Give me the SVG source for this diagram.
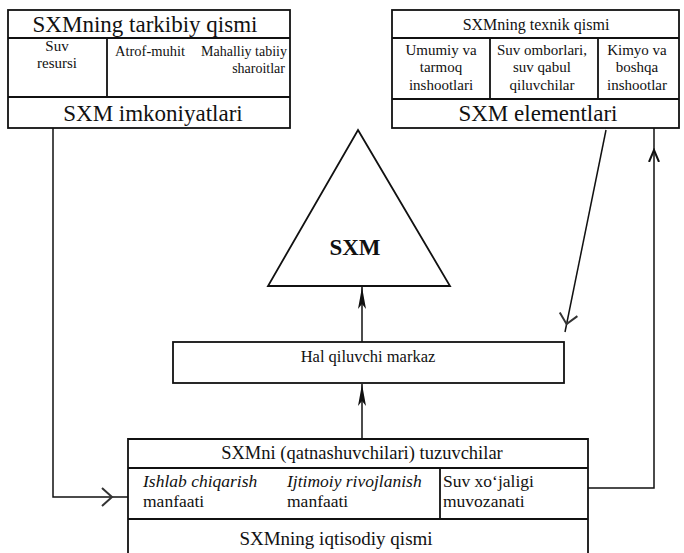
<svg xmlns="http://www.w3.org/2000/svg" width="684" height="553" viewBox="0 0 684 553">
<style>
.box{fill:none;stroke:#111;stroke-width:1.8}
.ln{fill:none;stroke:#111;stroke-width:1.5}
.t{font-family:"Liberation Serif","Times New Roman",serif;fill:#111}
.big{font-size:23px}
.mid{font-size:18.5px}
.cell{font-size:17.5px}
.sm{font-size:15px}
.it{font-style:italic}
.c{text-anchor:middle}
</style>
<defs>
<marker id="chev" markerUnits="userSpaceOnUse" viewBox="0 0 30 30" markerWidth="30" markerHeight="30" refX="22" refY="15" orient="auto">
<path d="M4,6 L14,15 L4,24" fill="none" stroke="#333" stroke-width="2"/>
</marker>
<marker id="up" markerUnits="userSpaceOnUse" viewBox="0 0 24 12" markerWidth="24" markerHeight="12" refX="22" refY="6" orient="auto">
<path d="M0,2 L22,6 L0,10 L5,6 Z" fill="#111"/>
</marker>
<marker id="small" markerUnits="userSpaceOnUse" viewBox="0 0 14 12" markerWidth="14" markerHeight="12" refX="12" refY="6" orient="auto">
<path d="M0,1 L12,6 L0,11" fill="none" stroke="#111" stroke-width="2"/>
</marker>
</defs>

<g id="connectors">
<path class="ln" d="M53,128 V497 H120" marker-end="url(#chev)"/>
<path class="ln" d="M120,497 H128"/>
<path class="ln" d="M588,488 H654 V150" marker-end="url(#small)"/>
<path class="ln" d="M654,150 V128"/>
<path class="ln" d="M606,130 L565,332" marker-end="url(#chev)"/>
<path class="ln" d="M362,342 V287" marker-end="url(#up)"/>
<path class="ln" d="M362,439 V384" marker-end="url(#up)"/>
</g>

<g id="tarkibiy">
<rect class="box" x="8" y="10" width="282" height="118"/>
<path class="box" d="M8,38 H290 M8,97 H290 M107,38 V97"/>
<text class="t big c" x="145" y="32">SXMning tarkibiy qismi</text>
<text class="t sm c" x="57" y="51">Suv</text>
<text class="t sm c" x="57" y="68">resursi</text>
<text class="t" x="115" y="56" font-size="14.5">Atrof-muhit</text>
<text class="t" x="287" y="56" font-size="14" text-anchor="end">Mahalliy tabiiy</text>
<text class="t" x="285" y="73" font-size="14" text-anchor="end">sharoitlar</text>
<text class="t big c" x="153" y="121">SXM imkoniyatlari</text>
</g>

<g id="texnik">
<rect class="box" x="392" y="10" width="287" height="118"/>
<path class="box" d="M392,38 H679 M392,99 H679 M490,38 V99 M598,38 V99"/>
<text class="t c" x="536" y="30" font-size="16">SXMning texnik qismi</text>
<text class="t sm c" x="441" y="55">Umumiy va</text>
<text class="t sm c" x="441" y="72">tarmoq</text>
<text class="t sm c" x="441" y="90">inshootlari</text>
<text class="t sm c" x="542" y="55">Suv omborlari,</text>
<text class="t sm c" x="542" y="72">suv qabul</text>
<text class="t sm c" x="542" y="90">qiluvchilar</text>
<text class="t sm c" x="637" y="55">Kimyo va</text>
<text class="t sm c" x="637" y="72">boshqa</text>
<text class="t sm c" x="637" y="90">inshootlar</text>
<text class="t big c" x="538" y="121">SXM elementlari</text>
</g>

<g id="sxm">
<polygon class="box" points="358,130 450,286 268,286"/>
<text class="t c" x="355" y="255" font-size="23" font-weight="bold">SXM</text>
</g>

<g id="markaz">
<rect class="box" x="173" y="342" width="391" height="41"/>
<text class="t c" x="368" y="362" font-size="16.5">Hal qiluvchi markaz</text>
</g>

<g id="iqtisodiy">
<path class="box" d="M128,553 V439 H588 V553 M128,468 H588 M128,519 H588 M440,468 V519"/>
<text class="t mid c" x="362" y="459">SXMni (qatnashuvchilari) tuzuvchilar</text>
<text class="t cell it" x="143" y="487">Ishlab chiqarish</text>
<text class="t cell" x="143" y="507">manfaati</text>
<text class="t cell it" x="287" y="487">Ijtimoiy rivojlanish</text>
<text class="t cell" x="287" y="507">manfaati</text>
<text class="t cell" x="443" y="487">Suv xo‘jaligi</text>
<text class="t cell" x="443" y="507">muvozanati</text>
<text class="t c" x="336" y="545" font-size="19">SXMning iqtisodiy qismi</text>
</g>
</svg>
